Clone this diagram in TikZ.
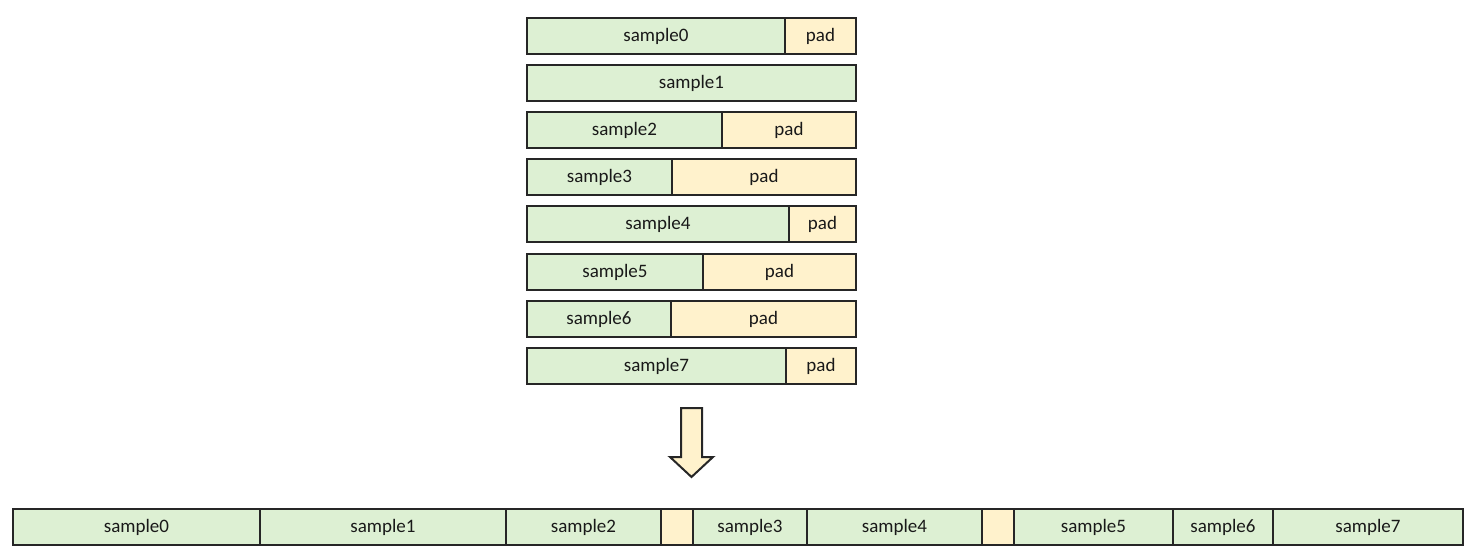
\documentclass[tikz,border=0pt]{standalone}
\usepackage{fontspec}
\setmainfont{Carlito}
\usepackage{xcolor}
\usepackage{tikz}
\usetikzlibrary{positioning}
\definecolor{samplegreen}{HTML}{DDF0D3}
\definecolor{padyellow}{HTML}{FFF2CC}
\definecolor{boxline}{HTML}{262626}
\tikzstyle{cell} = [draw=boxline, line width=1pt, rectangle, inner sep=0pt, outer sep=0pt, minimum height=18pt, text=black!90, font=\fontsize{9.5}{11}\selectfont]
\tikzstyle{sample} = [cell, fill=samplegreen]
\tikzstyle{pad} = [cell, fill=padyellow]

\begin{document}
\begin{tikzpicture}[x=0.5pt, y=-0.5pt]
\useasboundingbox (0,0) rectangle (1474,556);
% padded batch
\node [sample, anchor=north west, minimum width=129pt] (r0) at (527,18) {sample0};
\node [pad, right=0pt of r0, minimum width=35.5pt] (p0) {pad};
\node [sample, anchor=north west, minimum width=164.5pt] (r1) at (527,65) {sample1};
\node [sample, anchor=north west, minimum width=97.5pt] (r2) at (527,112) {sample2};
\node [pad, right=0pt of r2, minimum width=67pt] (p2) {pad};
\node [sample, anchor=north west, minimum width=72.5pt] (r3) at (527,159) {sample3};
\node [pad, right=0pt of r3, minimum width=92pt] (p3) {pad};
\node [sample, anchor=north west, minimum width=131pt] (r4) at (527,206) {sample4};
\node [pad, right=0pt of r4, minimum width=33.5pt] (p4) {pad};
\node [sample, anchor=north west, minimum width=88pt] (r5) at (527,254) {sample5};
\node [pad, right=0pt of r5, minimum width=76.5pt] (p5) {pad};
\node [sample, anchor=north west, minimum width=72pt] (r6) at (527,301) {sample6};
\node [pad, right=0pt of r6, minimum width=92.5pt] (p6) {pad};
\node [sample, anchor=north west, minimum width=129.5pt] (r7) at (527,348) {sample7};
\node [pad, right=0pt of r7, minimum width=35pt] (p7) {pad};
% arrow
\draw [draw=boxline, line width=1pt, fill=padyellow, line join=miter]
	(681,408) -- (702,408) -- (702,457) -- (713,457) -- (691.5,477)
	-- (670,457) -- (681,457) -- cycle;
% packed sequence
\node [sample, anchor=north west, minimum width=123.5pt] (s0) at (13,509) {sample0};
\node [sample, right=0pt of s0, minimum width=123pt] (s1) {sample1};
\node [sample, right=0pt of s1, minimum width=77.5pt] (s2) {sample2};
\node [pad, right=0pt of s2, minimum width=16pt] (q0) {};
\node [sample, right=0pt of q0, minimum width=57pt] (s3) {sample3};
\node [sample, right=0pt of s3, minimum width=87.5pt] (s4) {sample4};
\node [pad, right=0pt of s4, minimum width=16pt] (q1) {};
\node [sample, right=0pt of q1, minimum width=79.5pt] (s5) {sample5};
\node [sample, right=0pt of s5, minimum width=50pt] (s6) {sample6};
\node [sample, right=0pt of s6, minimum width=95pt] (s7) {sample7};
\end{tikzpicture}
\end{document}
